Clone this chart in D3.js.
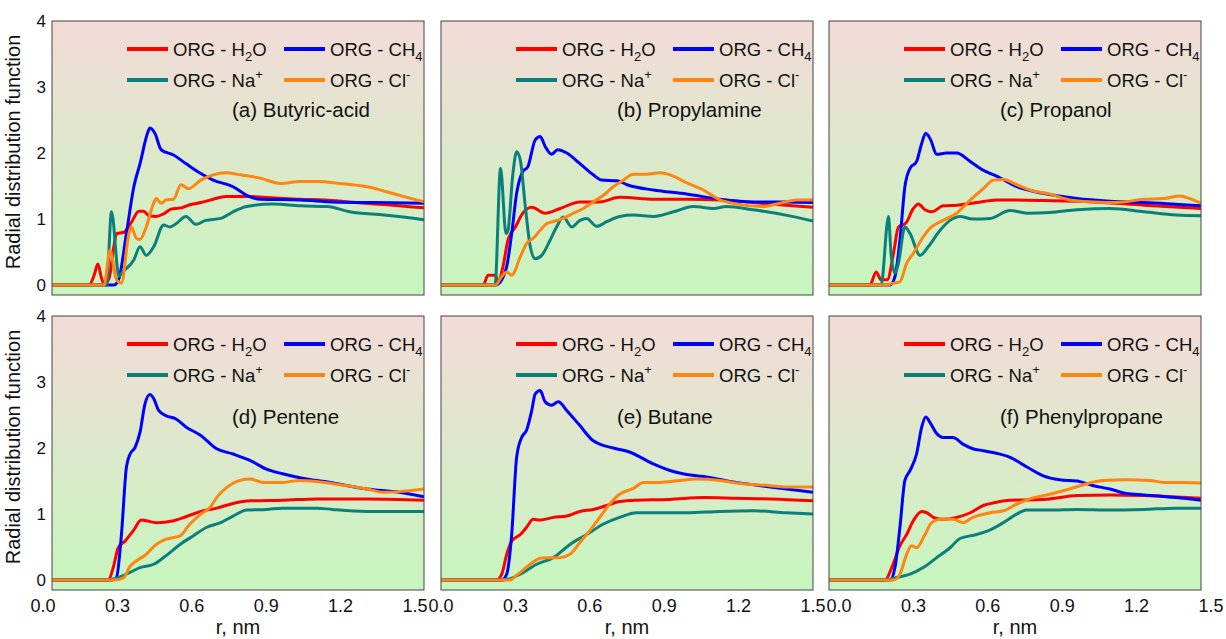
<!DOCTYPE html>
<html>
<head>
<meta charset="utf-8">
<script src="https://cdn.jsdelivr.net/npm/d3@7"></script>
<style>
    body { margin: 0; background: #fff; }
    text { font-family: Arial, "Liberation Sans", sans-serif; fill: #111; }
    .frame { fill: none; stroke: #444; stroke-width: 1; }
    .curve { fill: none; stroke-width: 3; stroke-linejoin: round; }
</style>
</head>
<body>
<div id="chart"></div>
<script>
'use strict';

// Series names + colours
const seriesNames = ['H2O', 'CH4', 'Na', 'Cl'];
const seriesColors = ['#ff0000', '#0000ff', '#0b807b', '#ff8410'];
const panelLabels = ['(a) Butyric-acid', '(b) Propylamine', '(c) Propanol',
    '(d) Pentene', '(e) Butane', '(f) Phenylpropane'];
const xTicks = [0, 0.3, 0.6, 0.9, 1.2, 1.5];
const yTicks = [0, 1, 2, 3, 4];

// (a) Butyric-acid
const aH2O = [[0,0],[0.15,0],[0.17,0.15],[0.185,0.32],[0.2,0.1],[0.21,0.02],[0.23,0.1],[0.25,0.6],[0.26,0.78],[0.29,0.8],[0.32,0.95],[0.35,1.12],[0.37,1.12],[0.39,1.05],[0.42,1.04],[0.45,1.08],[0.48,1.15],[0.52,1.17],[0.56,1.22],[0.6,1.25],[0.65,1.3],[0.7,1.34],[0.8,1.34],[0.9,1.32],[1.0,1.3],[1.1,1.29],[1.2,1.26],[1.3,1.23],[1.4,1.2],[1.5,1.17]];
const aCH4 = [[0,0],[0.25,0],[0.27,0.1],[0.3,0.78],[0.33,1.49],[0.355,1.84],[0.385,2.3],[0.395,2.38],[0.415,2.3],[0.44,2.05],[0.49,1.97],[0.54,1.84],[0.6,1.69],[0.65,1.59],[0.73,1.49],[0.785,1.36],[0.84,1.3],[1.0,1.29],[1.13,1.26],[1.3,1.25],[1.5,1.24]];
const aNa = [[0,0],[0.22,0],[0.24,1.11],[0.27,0.13],[0.28,0.18],[0.33,0.38],[0.355,0.58],[0.38,0.45],[0.41,0.58],[0.45,0.91],[0.475,0.88],[0.5,0.93],[0.54,1.04],[0.58,0.92],[0.62,0.98],[0.68,1.01],[0.73,1.11],[0.785,1.19],[0.89,1.23],[1.0,1.2],[1.11,1.19],[1.2,1.11],[1.34,1.06],[1.5,0.99]];
const aCl = [[0,0],[0.21,0],[0.234,0.53],[0.26,0.08],[0.28,0.03],[0.31,0.78],[0.32,0.88],[0.34,0.71],[0.355,0.69],[0.38,0.88],[0.41,1.24],[0.42,1.31],[0.44,1.24],[0.46,1.29],[0.49,1.3],[0.52,1.52],[0.55,1.46],[0.6,1.59],[0.65,1.67],[0.7,1.7],[0.76,1.67],[0.84,1.62],[0.92,1.54],[1.0,1.57],[1.07,1.57],[1.16,1.54],[1.27,1.49],[1.4,1.36],[1.5,1.26]];

// (b) Propylamine
const bH2O = [[0,0],[0.17,0],[0.19,0.15],[0.22,0.15],[0.23,0.05],[0.25,0.28],[0.27,0.68],[0.3,0.88],[0.33,1.09],[0.366,1.18],[0.42,1.09],[0.48,1.16],[0.56,1.26],[0.64,1.26],[0.72,1.33],[0.86,1.3],[0.99,1.3],[1.125,1.29],[1.26,1.25],[1.39,1.21],[1.5,1.18]];
const bCH4 = [[0,0],[0.22,0],[0.245,0.08],[0.265,0.28],[0.285,0.78],[0.305,1.39],[0.33,1.72],[0.35,1.79],[0.38,2.2],[0.4,2.25],[0.42,2.1],[0.446,1.98],[0.47,2.05],[0.507,2.0],[0.56,1.84],[0.614,1.67],[0.648,1.59],[0.71,1.58],[0.75,1.52],[0.856,1.44],[0.99,1.38],[1.125,1.3],[1.26,1.26],[1.39,1.26],[1.5,1.25]];
const bNa = [[0,0],[0.218,0],[0.24,1.77],[0.262,0.78],[0.27,0.83],[0.29,1.69],[0.305,2.02],[0.32,1.89],[0.34,1.19],[0.36,0.58],[0.38,0.4],[0.406,0.45],[0.44,0.68],[0.466,0.88],[0.493,1.03],[0.527,0.88],[0.56,0.98],[0.587,1.01],[0.628,0.89],[0.668,0.96],[0.72,1.04],[0.776,1.06],[0.856,1.04],[0.937,1.11],[1.017,1.19],[1.1,1.16],[1.15,1.19],[1.26,1.14],[1.39,1.06],[1.5,0.97]];
const bCl = [[0,0],[0.22,0],[0.245,0.13],[0.265,0.2],[0.285,0.15],[0.32,0.43],[0.345,0.63],[0.372,0.71],[0.4,0.83],[0.426,0.93],[0.45,0.96],[0.493,1.01],[0.534,1.09],[0.574,1.16],[0.614,1.26],[0.655,1.36],[0.695,1.49],[0.735,1.59],[0.775,1.68],[0.83,1.68],[0.883,1.7],[0.937,1.65],[0.99,1.55],[1.058,1.44],[1.125,1.29],[1.19,1.23],[1.3,1.19],[1.367,1.24],[1.434,1.29],[1.5,1.29]];

// (c) Propanol
const cH2O = [[0,0],[0.165,0],[0.19,0.2],[0.21,0.08],[0.235,0.08],[0.26,0.48],[0.28,0.88],[0.31,0.94],[0.34,1.16],[0.36,1.23],[0.387,1.14],[0.414,1.11],[0.46,1.2],[0.515,1.21],[0.595,1.25],[0.676,1.29],[0.864,1.28],[1.066,1.26],[1.27,1.21],[1.5,1.16]];
const cCH4 = [[0,0],[0.246,0],[0.266,0.13],[0.286,0.68],[0.306,1.49],[0.327,1.77],[0.353,1.87],[0.374,2.15],[0.39,2.3],[0.41,2.2],[0.434,1.98],[0.474,2.0],[0.515,2.0],[0.57,1.87],[0.622,1.74],[0.676,1.65],[0.757,1.49],[0.864,1.39],[1.0,1.31],[1.133,1.27],[1.27,1.25],[1.5,1.2]];
const cNa = [[0,0],[0.21,0],[0.24,1.04],[0.25,0.48],[0.266,0.18],[0.28,0.33],[0.306,0.88],[0.327,0.78],[0.367,0.45],[0.4,0.58],[0.448,0.83],[0.488,0.98],[0.528,1.04],[0.58,1.0],[0.65,1.01],[0.73,1.13],[0.8,1.09],[0.89,1.1],[1.0,1.14],[1.133,1.16],[1.27,1.11],[1.4,1.06],[1.5,1.05]];
const cCl = [[0,0],[0.226,0],[0.26,0.03],[0.286,0.05],[0.313,0.33],[0.34,0.48],[0.38,0.73],[0.407,0.86],[0.46,0.98],[0.515,1.09],[0.57,1.29],[0.622,1.46],[0.663,1.59],[0.703,1.6],[0.757,1.52],[0.81,1.44],[0.89,1.38],[0.97,1.29],[1.066,1.26],[1.16,1.25],[1.27,1.3],[1.35,1.31],[1.415,1.35],[1.455,1.31],[1.5,1.24]];

// (d) Pentene
const dH2O = [[0,0],[0.227,0],[0.247,0.19],[0.267,0.49],[0.294,0.59],[0.328,0.75],[0.36,0.91],[0.38,0.9],[0.42,0.87],[0.49,0.9],[0.54,0.96],[0.6,1.04],[0.664,1.09],[0.73,1.16],[0.8,1.2],[0.93,1.21],[1.07,1.23],[1.27,1.23],[1.5,1.21]];
const dCH4 = [[0,0],[0.24,0],[0.26,0.04],[0.28,0.69],[0.3,1.71],[0.315,1.91],[0.335,2.01],[0.355,2.24],[0.375,2.67],[0.395,2.81],[0.41,2.75],[0.43,2.57],[0.46,2.49],[0.5,2.44],[0.54,2.32],[0.6,2.19],[0.664,1.99],[0.73,1.91],[0.8,1.81],[0.865,1.68],[0.93,1.61],[1.0,1.55],[1.134,1.47],[1.27,1.38],[1.4,1.33],[1.5,1.26]];
const dNa = [[0,0],[0.22,0],[0.26,0.03],[0.3,0.09],[0.355,0.19],[0.41,0.24],[0.46,0.37],[0.516,0.54],[0.57,0.67],[0.624,0.8],[0.68,0.87],[0.73,0.97],[0.785,1.06],[0.865,1.07],[0.93,1.09],[1.07,1.09],[1.13,1.07],[1.27,1.04],[1.5,1.04]];
const dCl = [[0,0],[0.254,0],[0.29,0.04],[0.315,0.21],[0.34,0.29],[0.38,0.39],[0.42,0.54],[0.46,0.62],[0.516,0.67],[0.556,0.85],[0.6,1.0],[0.637,1.1],[0.67,1.28],[0.704,1.4],[0.758,1.51],[0.8,1.53],[0.85,1.48],[0.93,1.48],[1.0,1.51],[1.134,1.46],[1.27,1.38],[1.336,1.33],[1.4,1.34],[1.5,1.38]];

// (e) Butane
const eH2O = [[0,0],[0.224,0],[0.245,0.09],[0.265,0.39],[0.285,0.59],[0.32,0.69],[0.345,0.8],[0.372,0.92],[0.4,0.91],[0.453,0.95],[0.507,0.97],[0.56,1.04],[0.614,1.07],[0.668,1.13],[0.72,1.19],[0.79,1.21],[0.92,1.22],[1.06,1.25],[1.19,1.24],[1.33,1.23],[1.5,1.2]];
const eCH4 = [[0,0],[0.245,0],[0.265,0.09],[0.285,0.69],[0.305,1.86],[0.325,2.16],[0.345,2.27],[0.366,2.57],[0.38,2.82],[0.4,2.87],[0.42,2.7],[0.446,2.65],[0.473,2.7],[0.507,2.57],[0.56,2.34],[0.614,2.11],[0.64,2.06],[0.695,2.0],[0.76,1.94],[0.856,1.76],[0.923,1.66],[0.99,1.6],[1.058,1.57],[1.19,1.48],[1.327,1.41],[1.5,1.33]];
const eNa = [[0,0],[0.224,0],[0.265,0.01],[0.32,0.09],[0.386,0.24],[0.453,0.34],[0.52,0.54],[0.587,0.69],[0.655,0.85],[0.72,0.95],[0.79,1.02],[0.856,1.02],[0.99,1.02],[1.125,1.04],[1.26,1.05],[1.39,1.02],[1.5,1.0]];
const eCl = [[0,0],[0.245,0],[0.278,0.0],[0.31,0.09],[0.36,0.24],[0.4,0.33],[0.426,0.34],[0.48,0.34],[0.52,0.39],[0.56,0.57],[0.6,0.75],[0.64,0.95],[0.68,1.15],[0.72,1.3],[0.776,1.39],[0.816,1.48],[0.883,1.48],[0.964,1.51],[1.03,1.53],[1.125,1.51],[1.19,1.47],[1.327,1.43],[1.39,1.41],[1.5,1.41]];

// (f) Phenylpropane
const fH2O = [[0,0],[0.226,0],[0.253,0.19],[0.286,0.52],[0.313,0.69],[0.34,0.9],[0.374,1.04],[0.394,1.02],[0.427,0.94],[0.46,0.92],[0.515,0.95],[0.57,1.02],[0.622,1.13],[0.676,1.18],[0.73,1.21],[0.864,1.22],[1.0,1.28],[1.133,1.29],[1.27,1.28],[1.4,1.26],[1.5,1.24]];
const fCH4 = [[0,0],[0.246,0],[0.266,0.19],[0.286,0.8],[0.306,1.51],[0.327,1.66],[0.353,1.91],[0.374,2.32],[0.39,2.47],[0.41,2.37],[0.434,2.22],[0.46,2.16],[0.5,2.16],[0.54,2.06],[0.58,1.99],[0.622,1.96],[0.676,1.92],[0.73,1.86],[0.8,1.71],[0.864,1.58],[0.93,1.52],[1.0,1.5],[1.066,1.43],[1.133,1.38],[1.2,1.31],[1.27,1.29],[1.4,1.25],[1.5,1.21]];
const fNa = [[0,0],[0.22,0],[0.273,0.04],[0.327,0.09],[0.38,0.19],[0.434,0.34],[0.488,0.49],[0.528,0.63],[0.595,0.69],[0.65,0.76],[0.703,0.87],[0.757,1.0],[0.797,1.06],[0.89,1.06],[1.0,1.07],[1.133,1.06],[1.27,1.07],[1.4,1.09],[1.5,1.09]];
const fCl = [[0,0],[0.26,0],[0.286,0.09],[0.313,0.39],[0.333,0.52],[0.353,0.49],[0.387,0.69],[0.414,0.87],[0.448,0.92],[0.5,0.92],[0.54,0.87],[0.58,0.95],[0.65,1.02],[0.703,1.05],[0.757,1.15],[0.81,1.23],[0.89,1.3],[0.97,1.38],[1.04,1.46],[1.106,1.51],[1.2,1.52],[1.294,1.51],[1.348,1.48],[1.43,1.48],[1.5,1.47]];

/* `````````````````````````````````\
    Class: RdfPanel                 |
 ``````````````````````````````````*/
class RdfPanel {

    constructor(_svg, _idx, _label, _series) {
        // Fields
        this.svg = _svg;
        this.idx = _idx;
        this.label = _label;
        this.series = _series;

        // Initialize
        this.initVis();
    }

    initVis() {
        const vis = this;

        // Config panel position
        vis.col = vis.idx % 3;
        vis.row = Math.floor(vis.idx / 3);
        vis.left = [52, 441, 829][vis.col];
        vis.top = [21, 316][vis.row];
        vis.w = 372;
        vis.h = 274;

        // Scales
        vis.x = d3.scaleLinear().domain([0, 1.5]).range([0, vis.w]);
        vis.y = d3.scaleLinear().domain([-0.15, 4]).range([vis.h, 0]);

        // Append g (container)
        vis.g = vis.svg.append('g')
            .attr('transform', `translate(${vis.left},${vis.top})`);

        // Background + clip
        vis.g.append('rect')
            .attr('width', vis.w)
            .attr('height', vis.h)
            .attr('fill', 'url(#bgGrad)');
        vis.g.append('clipPath')
            .attr('id', `clip${vis.idx}`)
            .append('rect')
            .attr('width', vis.w)
            .attr('height', vis.h);

        vis.updateVis();
    }

    updateVis() {
        const vis = this;

        // Lines
        const line = d3.line()
            .x(d => vis.x(d[0]))
            .y(d => vis.y(d[1]))
            .curve(d3.curveMonotoneX);

        vis.g.append('g')
            .attr('clip-path', `url(#clip${vis.idx})`)
            .selectAll('.curve')
            .data(vis.series)
            .join('path')
            .attr('class', 'curve')
            .attr('stroke', (d, i) => seriesColors[i])
            .attr('d', line);

        // Frame
        vis.g.append('rect')
            .attr('class', 'frame')
            .attr('width', vis.w)
            .attr('height', vis.h);

        // Legend
        const legPos = [[75, 28], [232, 28], [75, 59], [232, 59]];
        const leg = vis.g.append('g').attr('class', 'legend');
        seriesNames.forEach((name, i) => {
            const [lx, ly] = legPos[i];
            leg.append('line')
                .attr('x1', lx).attr('x2', lx + 41)
                .attr('y1', ly).attr('y2', ly)
                .attr('stroke', seriesColors[i])
                .attr('stroke-width', 4);
            const t = leg.append('text')
                .attr('x', lx + 46)
                .attr('y', ly + 6.5)
                .attr('font-size', 18.5);
            if (name === 'H2O') {
                t.append('tspan').text('ORG - H');
                t.append('tspan').attr('dy', 5).attr('font-size', 13).text('2');
                t.append('tspan').attr('dy', -5).text('O');
            } else if (name === 'CH4') {
                t.append('tspan').text('ORG - CH');
                t.append('tspan').attr('dy', 5).attr('font-size', 13).text('4');
            } else if (name === 'Na') {
                t.append('tspan').text('ORG - Na');
                t.append('tspan').attr('dy', -8).attr('font-size', 13).text('+');
            } else {
                t.append('tspan').text('ORG - Cl');
                t.append('tspan').attr('dy', -8).attr('font-size', 13).text('-');
            }
        });

        // Panel label
        vis.g.append('text')
            .attr('x', [180, 176, 171][vis.col])
            .attr('y', vis.row === 0 ? 96 : 108)
            .attr('font-size', 20.5)
            .text(vis.label);

        // Y tick labels (first column only)
        if (vis.col === 0) {
            vis.g.selectAll('.ytick')
                .data(yTicks)
                .join('text')
                .attr('class', 'ytick')
                .attr('x', -6)
                .attr('y', d => vis.y(d))
                .attr('dy', '0.36em')
                .attr('text-anchor', 'end')
                .attr('font-size', 17)
                .text(d => d);

            vis.g.append('text')
                .attr('transform', `translate(-32,${vis.h / 2 - 6}) rotate(-90)`)
                .attr('text-anchor', 'middle')
                .attr('font-size', 20)
                .text('Radial distribution function');
        }

        // X tick labels (bottom row only)
        if (vis.row === 1) {
            const off = [-9, 0, 10][vis.col];
            vis.g.selectAll('.xtick')
                .data(xTicks)
                .join('text')
                .attr('class', 'xtick')
                .attr('x', d => vis.x(d) + off)
                .attr('y', vis.h + 22)
                .attr('text-anchor', 'middle')
                .attr('font-size', 18)
                .text(d => d3.format('.1f')(d));

            vis.g.append('text')
                .attr('x', vis.w / 2)
                .attr('y', vis.h + 44)
                .attr('text-anchor', 'middle')
                .attr('font-size', 20)
                .text('r, nm');
        }
    }
}

// Append svg
const svg = d3.select('#chart')
    .append('svg')
    .attr('width', 1226)
    .attr('height', 639);

// Background gradient
const grad = svg.append('defs')
    .append('linearGradient')
    .attr('id', 'bgGrad')
    .attr('x1', 0).attr('y1', 0)
    .attr('x2', 0).attr('y2', 1);
grad.append('stop').attr('offset', '0%').attr('stop-color', '#f3dbd8');
grad.append('stop').attr('offset', '100%').attr('stop-color', '#c6f6bd');

// Build panels
const panelSeries = [
    [aH2O, aCH4, aNa, aCl],
    [bH2O, bCH4, bNa, bCl],
    [cH2O, cCH4, cNa, cCl],
    [dH2O, dCH4, dNa, dCl],
    [eH2O, eCH4, eNa, eCl],
    [fH2O, fCH4, fNa, fCl]
];
panelSeries.forEach((s, i) => new RdfPanel(svg, i, panelLabels[i], s));
</script>
</body>
</html>
